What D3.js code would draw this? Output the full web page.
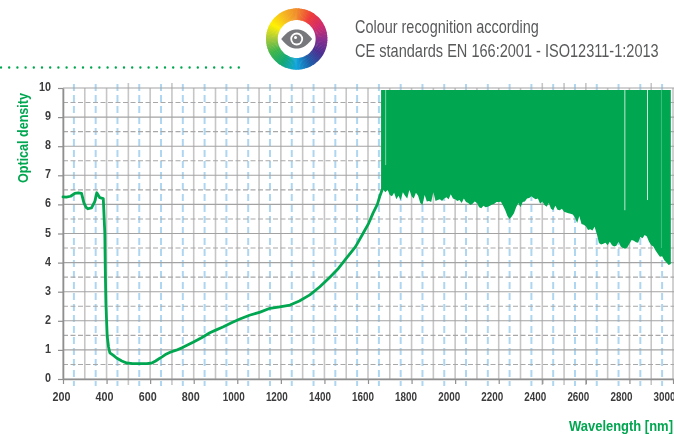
<!DOCTYPE html>
<html>
<head>
<meta charset="utf-8">
<script src="https://cdn.jsdelivr.net/npm/d3@7"></script>
<style>
  html, body { margin: 0; padding: 0; background: #fff; }
  svg { display: block; filter: blur(0.35px); }
  text { font-family: "Liberation Sans", sans-serif; }
</style>
</head>
<body>
<div id="chart"></div>
<script>
// curve, wavelength [nm] / optical density
const curveNm = [200, 215, 235, 254, 270, 285, 296, 306, 315, 331, 346, 355, 369, 385, 389, 392, 394, 397, 400, 403, 409, 415, 430, 446, 470, 492, 520, 554, 585, 608, 625, 646, 670, 692, 720, 746, 797, 836, 874, 901, 934, 976, 1012, 1056, 1105, 1150, 1195, 1242, 1285, 1333, 1379, 1425, 1464, 1501, 1543, 1577, 1603, 1623, 1643, 1655, 1665];
const curveOd = [6.26, 6.25, 6.28, 6.38, 6.4, 6.38, 6.05, 5.9, 5.85, 5.88, 6.1, 6.4, 6.23, 6.2, 5.5, 5.0, 3.8, 2.6, 2.0, 1.47, 1.1, 0.9, 0.82, 0.72, 0.62, 0.55, 0.53, 0.53, 0.53, 0.55, 0.62, 0.72, 0.84, 0.92, 0.99, 1.07, 1.26, 1.42, 1.59, 1.68, 1.79, 1.94, 2.06, 2.19, 2.3, 2.43, 2.48, 2.54, 2.68, 2.89, 3.17, 3.5, 3.8, 4.15, 4.55, 5.0, 5.35, 5.7, 6.0, 6.3, 6.5];

// noisy part above 1660 nm: lower edge of the band, every 10 nm
const bandStart = 1660, bandStep = 10, bandTop = 9.93;
const bandLow = [
  6.35,
  6.5, 6.42, 6.5, 6.32, 6.28, 6.4, 6.18, 6.3, 6.14, 6.42, 6.3, 6.2, 6.5, 6.28, 6.2, 6.4, 6.3, 6.05, 5.98, 6.32,
  6.1, 6.12, 6.08, 6.42, 6.12, 6.15, 6.18, 6.12, 6.2, 6.25, 6.18, 6.35, 6.2, 6.18, 6.12, 6.15, 6.05, 6.2, 6.08, 6.05,
  5.98, 6.02, 6.1, 6.05, 5.9, 5.87, 5.95, 5.9, 5.92, 5.95, 6.0, 6.02, 6.08, 6.08, 6.09, 5.95, 5.8, 5.6, 5.5, 5.58,
  5.7, 5.9, 6.05, 5.9, 6.08, 6.1, 6.2, 6.22, 6.28, 6.22, 6.18, 6.2, 6.02, 6.1, 5.98, 5.92, 6.05, 5.85, 5.8, 5.95,
  5.82, 5.8, 5.85, 5.75, 5.72, 5.7, 5.68, 5.65, 5.55, 5.36, 5.6, 5.33, 5.3, 5.25, 5.12, 5.15, 5.1, 5.23, 5.0, 4.67,
  4.62, 4.65, 4.68, 4.6, 4.72, 4.6, 4.55, 4.58, 4.72, 4.55, 4.5, 4.48, 4.52, 4.65, 4.78, 4.75, 4.7, 4.68, 4.88, 4.84,
  4.95, 4.9, 4.72, 4.6, 4.55, 4.42, 4.3, 4.2, 4.22, 4.08, 4.0, 3.92, 3.95];

// pale slits through the band
const slitNm = [1681, 2779, 2883, 2947];
const slitLow = [7.35, 5.8, 6.15, 4.5];
const slitOpacity = [0.5, 0.75, 0.8, 0.25];

const xTicks = [200, 400, 600, 800, 1000, 1200, 1400, 1600, 1800, 2000, 2200, 2400, 2600, 2800, 3000];
const yTicks = [0, 1, 2, 3, 4, 5, 6, 7, 8, 9, 10];
const gridNm = d3.range(200, 3001, 100);
const tallNm = [500, 700, 2400, 2500, 2600, 2900];
const blueNm = d3.range(250, 3000, 100);
const halfOd = d3.range(0.5, 10, 1);

const title1 = "Colour recognition according";
const title2 = "CE standards EN 166:2001 - ISO12311-1:2013";
const xLabel = "Wavelength [nm]";
const yLabel = "Optical density";

const wheelColors = ["#f08a2c", "#ee3b3a", "#d22a6b", "#8a2f8f", "#4a2f91", "#1f5ea8", "#12a5dc", "#12a874", "#3fb54a", "#a7c93b", "#fff000", "#f6b921", "#f08a2c"];

const green = "#00a650";
const width = 674, height = 434;

const svg = d3.select("#chart").append("svg")
  .attr("width", width)
  .attr("height", height);

const x = d3.scaleLinear().domain([200, 3000]).range([63, 673]);
const y = d3.scaleLinear().domain([0, 10]).range([379, 88]);
// the printed tick labels drift a little left of their ticks
const xLabelPos = d3.scaleLinear().domain([200, 3000]).range([61, 664]);

// no narrow font here, so squeeze the text sideways to its printed width
const squeeze = (sel, w, before) => sel.each(function() {
  const k = w / this.getComputedTextLength();
  d3.select(this).attr("transform", (before || "") + " scale(" + k + ",1)");
});

// grid
const grid = svg.append("g");
grid.selectAll(".v").data(gridNm).enter().append("line")
  .attr("x1", d => x(d)).attr("x2", d => x(d))
  .attr("y1", d => tallNm.includes(d) ? 83 : y(10))
  .attr("y2", d => tallNm.includes(d) ? 385 : y(0))
  .attr("stroke", "#c6c6c6").attr("stroke-width", 1.6);
grid.selectAll(".b").data(blueNm).enter().append("line")
  .attr("x1", d => x(d)).attr("x2", d => x(d))
  .attr("y1", 84).attr("y2", 386)
  .attr("stroke", "#aed6f1").attr("stroke-width", 2)
  .attr("stroke-dasharray", "7,4");
grid.selectAll(".h").data(yTicks).enter().append("line")
  .attr("x1", x(200)).attr("x2", 674)
  .attr("y1", d => y(d)).attr("y2", d => y(d))
  .attr("stroke", "#a3a3a3").attr("stroke-width", 1.1);
grid.selectAll(".d").data(halfOd).enter().append("line")
  .attr("x1", x(200)).attr("x2", 674)
  .attr("y1", d => y(d)).attr("y2", d => y(d))
  .attr("stroke", "#a8a8a8").attr("stroke-width", 1.1)
  .attr("stroke-dasharray", "5,2.5");

// axes
const axisX = svg.append("g")
  .attr("transform", "translate(0," + y(0) + ")")
  .call(d3.axisBottom(x).tickValues(xTicks).tickFormat(d3.format("d")).tickSize(5).tickSizeOuter(0).tickPadding(8));
const axisY = svg.append("g")
  .attr("transform", "translate(" + x(200) + ",0)")
  .call(d3.axisLeft(y).tickValues(yTicks).tickFormat(d3.format("d")).tickSize(5).tickSizeOuter(0).tickPadding(7));
[axisX, axisY].forEach(a => {
  a.selectAll("path").attr("stroke", "#8f8f8f").attr("stroke-width", 1.6);
  a.selectAll("line").attr("stroke", "#8f8f8f").attr("stroke-width", 1.2);
  a.selectAll("text")
    .attr("fill", "#3c3c3e")
    .style("font-size", "12.5px")
    .style("font-weight", "bold");
});
axisX.selectAll("text").attr("x", 0).each(function(d) {
  squeeze(d3.select(this), d < 1000 ? 18 : 22, "translate(" + (xLabelPos(d) - x(d)) + ",0)");
});
axisY.selectAll("text").attr("x", 0).attr("dy", "0.2em").each(function(d) {
  squeeze(d3.select(this), d < 10 ? 6 : 12, "translate(-12,0)");
});

// noisy band
const area = d3.area()
  .x((d, i) => x(bandStart + i * bandStep))
  .y0(d => y(d))
  .y1(y(bandTop));
svg.append("path").datum(bandLow)
  .attr("d", area)
  .attr("fill", green);
svg.selectAll(".slit").data(slitNm).enter().append("line")
  .attr("x1", d => x(d)).attr("x2", d => x(d))
  .attr("y1", y(bandTop))
  .attr("y2", (d, i) => y(slitLow[i]))
  .attr("stroke", "#fff").attr("stroke-width", 1)
  .attr("opacity", (d, i) => slitOpacity[i]);

// curve
const line = d3.line()
  .x(d => x(d[0]))
  .y(d => y(d[1]));
svg.append("path").datum(d3.zip(curveNm, curveOd))
  .attr("d", line)
  .attr("fill", "none")
  .attr("stroke", green)
  .attr("stroke-width", 2.8)
  .attr("stroke-linejoin", "round")
  .attr("stroke-linecap", "round");

// axis labels
svg.append("text")
  .attr("text-anchor", "middle")
  .attr("fill", green)
  .style("font-size", "14px")
  .style("font-weight", "bold")
  .text(yLabel)
  .call(squeeze, 90, "translate(27.5,138) rotate(-90)");
svg.append("text")
  .attr("fill", green)
  .style("font-size", "14.5px")
  .style("font-weight", "bold")
  .text(xLabel)
  .call(squeeze, 104, "translate(569,431)");

// header text
svg.append("text")
  .attr("fill", "#58595b")
  .style("font-size", "17.5px").text(title1)
  .call(squeeze, 184, "translate(355,33)");
svg.append("text")
  .attr("fill", "#58595b")
  .style("font-size", "17.5px").text(title2)
  .call(squeeze, 304, "translate(355,57)");

// dotted rule
svg.append("line")
  .attr("x1", 1).attr("x2", 241).attr("y1", 67.5).attr("y2", 67.5)
  .attr("stroke", green).attr("stroke-width", 2.4)
  .attr("stroke-linecap", "round")
  .attr("stroke-dasharray", "0,8.2");

// colour wheel with eye
const wheel = svg.append("g").attr("transform", "translate(296.7,39)");
const nSeg = 120;
const wheelScale = d3.scaleLinear()
  .domain(wheelColors.map((c, i) => i / (wheelColors.length - 1)))
  .range(wheelColors);
const arc = d3.arc().innerRadius(19).outerRadius(30.7);
wheel.selectAll("path.seg").data(d3.range(nSeg)).enter().append("path")
  .attr("d", i => arc({startAngle: i / nSeg * 2 * Math.PI - 0.01, endAngle: (i + 1) / nSeg * 2 * Math.PI + 0.01}))
  .attr("fill", i => wheelScale(i / nSeg));
wheel.append("path")
  .attr("d", "M-15.5,0 C-9,-8.5 -4,-9.5 0,-9.5 C4,-9.5 9,-8.5 15.5,0 C9,8.5 4,9.5 0,9.5 C-4,9.5 -9,8.5 -15.5,0 Z")
  .attr("fill", "#77787b");
wheel.append("circle").attr("r", 6.4).attr("fill", "#fff");
wheel.append("circle").attr("r", 4.6).attr("fill", "#77787b");
wheel.append("circle").attr("cx", -1.2).attr("cy", -1.4).attr("r", 1.5).attr("fill", "#fff");
</script>
</body>
</html>
